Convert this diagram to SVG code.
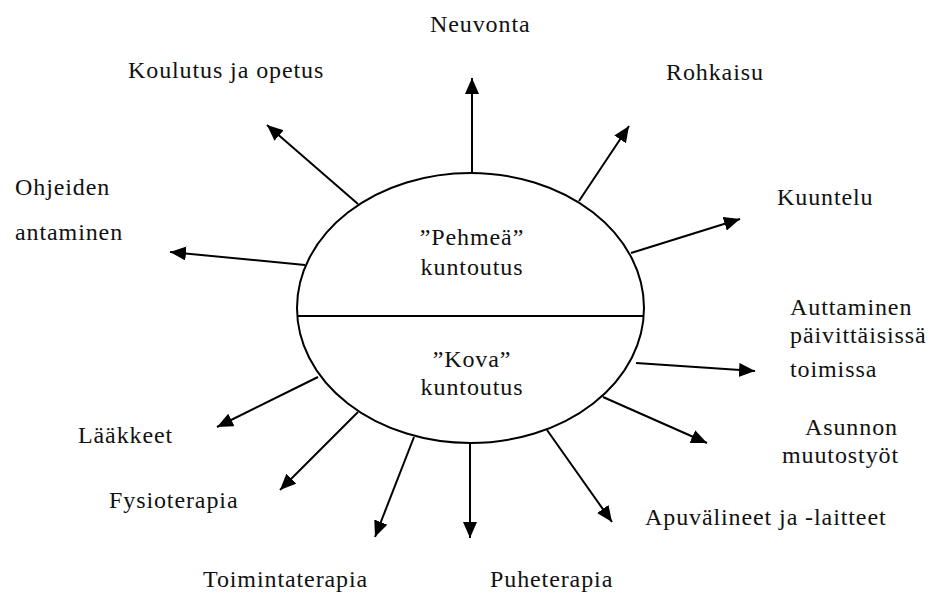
<svg xmlns="http://www.w3.org/2000/svg" width="933" height="595" viewBox="0 0 933 595">
<style>
text{font-family:"Liberation Serif","Times New Roman",serif;font-size:24px;letter-spacing:0.9px;fill:#111}
.c{text-anchor:middle}
.ln{stroke:#000;stroke-width:2;fill:none;marker-end:url(#ah)}
.sh{stroke:#000;stroke-width:2;fill:#fff}
</style>
<defs>
<marker id="ah" markerUnits="userSpaceOnUse" markerWidth="18" markerHeight="16" refX="16" refY="7" orient="auto" viewBox="0 0 18 16">
<path d="M0,0 L16,7 L0,14 z" fill="#000"/>
</marker>
</defs>
<rect width="933" height="595" fill="#fff"/>
<g id="center">
<ellipse class="sh" cx="470.5" cy="308" rx="173.5" ry="135"/>
<line x1="297.5" y1="316" x2="643.5" y2="316" stroke="#000" stroke-width="2"/>
<text class="c" x="472" y="245">”Pehmeä”</text>
<text class="c" x="472" y="275">kuntoutus</text>
<text class="c" x="472" y="367">”Kova”</text>
<text class="c" x="472" y="395">kuntoutus</text>
</g>
<g id="connectors">
<line class="ln" x1="472" y1="173" x2="472" y2="78"/>
<line class="ln" x1="358" y1="204" x2="267" y2="125"/>
<line class="ln" x1="305" y1="265" x2="170" y2="252"/>
<line class="ln" x1="579" y1="201" x2="629" y2="126"/>
<line class="ln" x1="631" y1="253" x2="740" y2="219"/>
<line class="ln" x1="636" y1="363" x2="755" y2="371"/>
<line class="ln" x1="603" y1="397" x2="707" y2="443"/>
<line class="ln" x1="547" y1="430" x2="612" y2="522"/>
<line class="ln" x1="470" y1="443" x2="470" y2="538"/>
<line class="ln" x1="414" y1="437" x2="375" y2="537"/>
<line class="ln" x1="358" y1="412" x2="280" y2="490"/>
<line class="ln" x1="318" y1="377" x2="217" y2="427"/>
</g>
<g id="n-neuvonta"><text x="430" y="32">Neuvonta</text></g>
<g id="n-koulutus"><text x="128" y="78">Koulutus ja opetus</text></g>
<g id="n-ohjeiden"><text x="15" y="195">Ohjeiden</text><text x="15" y="240">antaminen</text></g>
<g id="n-rohkaisu"><text x="666" y="80">Rohkaisu</text></g>
<g id="n-kuuntelu"><text x="777" y="205">Kuuntelu</text></g>
<g id="n-auttaminen"><text x="790" y="315">Auttaminen</text><text x="790" y="343">päivittäisissä</text><text x="790" y="377">toimissa</text></g>
<g id="n-asunnon"><text x="805" y="435">Asunnon</text><text x="782" y="463">muutostyöt</text></g>
<g id="n-apuvalineet"><text x="645" y="525">Apuvälineet ja -laitteet</text></g>
<g id="n-puheterapia"><text x="490" y="587">Puheterapia</text></g>
<g id="n-toimintaterapia"><text x="203" y="587">Toimintaterapia</text></g>
<g id="n-fysioterapia"><text x="109" y="508">Fysioterapia</text></g>
<g id="n-laakkeet"><text x="78" y="443">Lääkkeet</text></g>
</svg>
